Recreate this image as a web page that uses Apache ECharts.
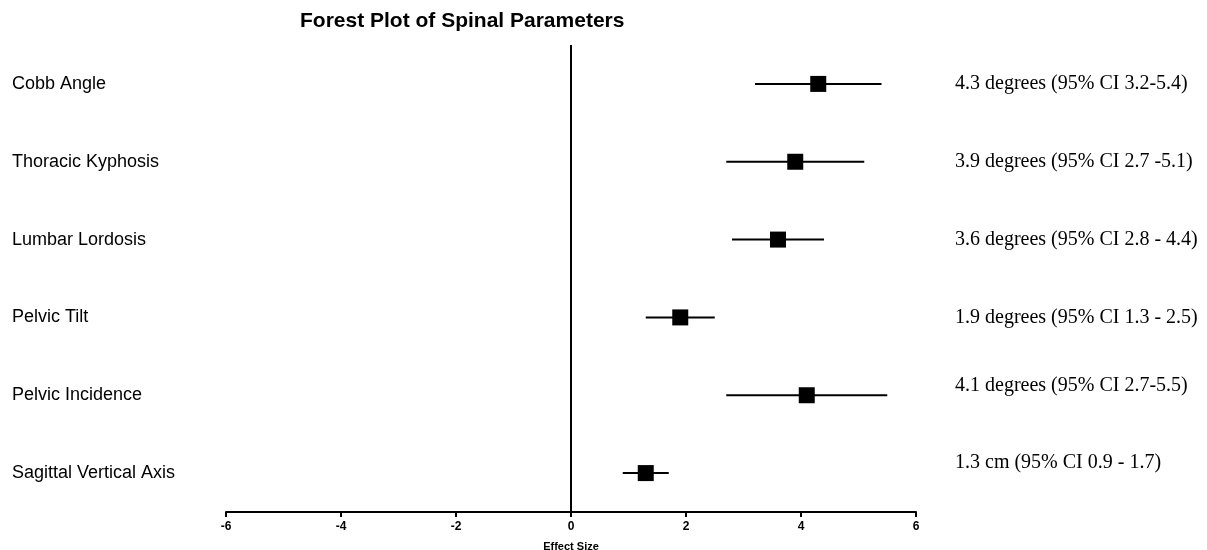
<!DOCTYPE html>
<html>
<head>
<meta charset="utf-8">
<script src="https://cdn.jsdelivr.net/npm/echarts@6/dist/echarts.min.js"></script>
<style>
  html, body { margin: 0; padding: 0; background: #fff; }
  #container { width: 1207px; height: 550px; }
</style>
</head>
<body>
<div id="container"></div>
<script>
// data
var categories = ['Cobb Angle', 'Thoracic Kyphosis', 'Lumbar Lordosis', 'Pelvic Tilt', 'Pelvic Incidence', 'Sagittal Vertical Axis'];
var estimates = [4.3, 3.9, 3.6, 1.9, 4.1, 1.3];
var lower = [3.2, 2.7, 2.8, 1.3, 2.7, 0.9];
var upper = [5.4, 5.1, 4.4, 2.5, 5.5, 1.7];
var annotations = [
    '4.3 degrees (95% CI 3.2-5.4)',
    '3.9 degrees (95% CI 2.7 -5.1)',
    '3.6 degrees (95% CI 2.8 - 4.4)',
    '1.9 degrees (95% CI 1.3 - 2.5)',
    '4.1 degrees (95% CI 2.7-5.5)',
    '1.3 cm (95% CI 0.9 - 1.7)'
];
var xTicks = [-6, -4, -2, 0, 2, 4, 6];

var sans = 'Liberation Sans, Arial, sans-serif';
var serif = 'Liberation Serif, Times New Roman, serif';

// the last two annotations sit a little above their rows in the original
var noteAlign = ['middle', 'middle', 'middle', 'middle', 'bottom', 'bottom'];

var ciData = categories.map(function (c, i) { return [c, lower[i], upper[i]]; });
var pointData = categories.map(function (c, i) { return [estimates[i], c]; });
var noteData = annotations.map(function (t, i) {
    return { value: t, textStyle: { verticalAlign: noteAlign[i] } };
});

var myChart = echarts.init(document.getElementById('container'));
var option = {
    backgroundColor: '#fff',
    animation: false,
    title: {
        text: 'Forest Plot of Spinal Parameters',
        left: 295,
        top: 6,
        textStyle: { fontFamily: sans, fontSize: 21, fontWeight: 'bold', color: '#000' }
    },
    grid: { left: 226, right: 291, top: 45, bottom: 38, outerBoundsMode: 'none' },
    xAxis: {
        type: 'value',
        min: xTicks[0],
        max: xTicks[xTicks.length - 1],
        interval: 2,
        name: 'Effect Size',
        nameLocation: 'middle',
        nameGap: 29,
        nameTextStyle: { fontFamily: sans, fontSize: 11, fontWeight: 'bold', color: '#000' },
        axisLine: { show: true, lineStyle: { color: '#000', width: 2 } },
        axisTick: { show: true, length: 5, lineStyle: { color: '#000', width: 2 } },
        axisLabel: { fontFamily: sans, fontSize: 12, fontWeight: 'bold', color: '#000', margin: 9 },
        splitLine: { show: false }
    },
    yAxis: [
        {
            type: 'category',
            data: categories,
            inverse: true,
            axisLine: { show: false },
            axisTick: { show: false },
            axisLabel: {
                align: 'left',
                margin: 214,
                fontFamily: sans,
                fontSize: 18,
                color: '#000'
            }
        },
        {
            type: 'category',
            data: noteData,
            inverse: true,
            position: 'right',
            axisLine: { show: false },
            axisTick: { show: false },
            axisLabel: {
                align: 'left',
                margin: 39,
                fontFamily: serif,
                fontSize: 20,
                color: '#000'
            }
        }
    ],
    series: [
        {
            name: 'CI',
            type: 'custom',
            yAxisIndex: 0,
            dimensions: ['name', 'low', 'high'],
            data: ciData,
            encode: { y: 0, x: [1, 2] },
            renderItem: function (params, api) {
                var idx = api.value(0);
                var a = api.coord([api.value(1), idx]);
                var b = api.coord([api.value(2), idx]);
                return {
                    type: 'line',
                    shape: { x1: a[0], y1: a[1], x2: b[0], y2: b[1] },
                    style: { stroke: '#000', lineWidth: 2 }
                };
            }
        },
        {
            name: 'Estimate',
            type: 'scatter',
            yAxisIndex: 0,
            data: pointData,
            symbol: 'rect',
            symbolSize: 16,
            itemStyle: { color: '#000', opacity: 1 },
            z: 3,
            markLine: {
                silent: true,
                symbol: 'none',
                label: { show: false },
                lineStyle: { color: '#000', width: 2, type: 'solid' },
                data: [{ xAxis: 0 }]
            }
        }
    ]
};
myChart.setOption(option);
</script>
</body>
</html>
